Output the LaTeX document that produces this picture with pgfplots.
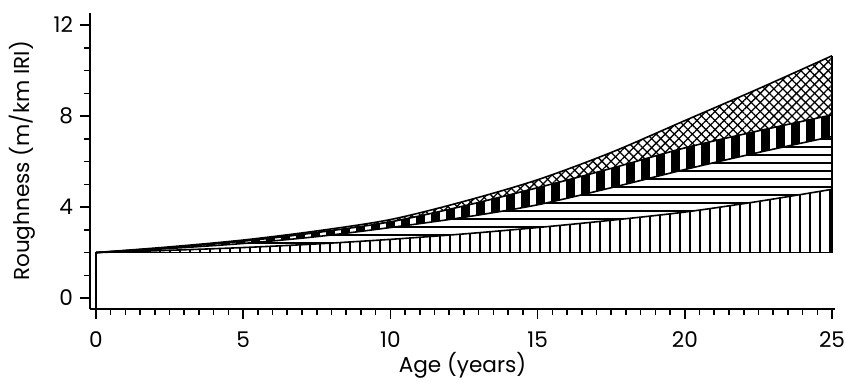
\documentclass[border=0pt]{standalone}
\usepackage{fontspec}
\setmainfont{Poppins}
\usepackage{pgfplots}
\usepackage{pgfplotstable}
\pgfplotsset{compat=1.18}
\usepgfplotslibrary{fillbetween}
\usetikzlibrary{patterns,patterns.meta}
\pgfdeclarepatternformonly{hlines}{\pgfqpoint{-1pt}{-1pt}}{\pgfqpoint{5pt}{5pt}}{\pgfqpoint{4pt}{4pt}}{%
  \pgfsetlinewidth{0.8pt}%
  \pgfpathmoveto{\pgfqpoint{-1pt}{2pt}}%
  \pgfpathlineto{\pgfqpoint{5pt}{2pt}}%
  \pgfusepath{stroke}}
\pgfplotstableread{
x c1 c2 c3 c4
0 2.00 2.00 2.00 2.00
2.5 2.10 2.18 2.22 2.25
5 2.22 2.40 2.50 2.55
7.5 2.38 2.70 2.88 2.95
10 2.58 3.10 3.35 3.45
12.5 2.82 3.55 4.05 4.25
15 3.10 4.10 4.85 5.20
17.5 3.42 4.85 5.70 6.40
20 3.78 5.65 6.60 7.80
22.5 4.25 6.40 7.35 9.20
25 4.78 7.10 8.05 10.65
}\data
\begin{document}
\begin{tikzpicture}
\begin{axis}[
 at={(0,0)}, anchor=south west,
 scale only axis, width=372.5pt, height=148pt,
 xmin=-0.2, xmax=25.1, ymin=-0.48, ymax=12.53,
 axis x line=bottom, axis y line=left,
 axis line style={-, line width=0.8pt},
 xtick={0,5,...,25}, minor x tick num=9,
 ytick={0,4,8,12}, minor y tick num=3,
 tick align=outside, major tick length=5pt, minor tick length=3pt,
 tick style={black, line width=0.8pt},
 xlabel={Age (years)}, ylabel={Roughness (m/km IRI)},
 /pgf/number format/assume math mode=true,
 ticklabel style={font=\fontsize{10.8}{12}\selectfont},
 xticklabel style={yshift=-3pt},
 label style={font=\fontsize{10.8}{12}\selectfont},
 xlabel style={at={(axis description cs:0.5,-0.189)}, anchor=center},
 ylabel style={at={(axis description cs:-0.0913,0.5)}, anchor=center},
]
\addplot[name path=base, draw=none] coordinates {(0,2)(25,2)};
\addplot[name path=c1, draw=none, smooth] table[x=x,y=c1]{\data};
\addplot[name path=c2, draw=none, smooth] table[x=x,y=c2]{\data};
\addplot[name path=c3, draw=none, smooth] table[x=x,y=c3]{\data};
\addplot[name path=c4, draw=none, smooth] table[x=x,y=c4]{\data};
\addplot[draw=none, pattern={Lines[angle=90,distance=5pt,line width=0.8pt]}] fill between[of=base and c1];
\addplot[draw=none, pattern=hlines] fill between[of=c1 and c2];
\addplot[draw=none, pattern={Lines[angle=90,distance=7.5pt,line width=4.5pt]}] fill between[of=c2 and c3];
\addplot[draw=none, pattern={Lines[angle=45,distance=3.2pt,line width=0.65pt]}] fill between[of=c3 and c4];
\addplot[draw=none, pattern={Lines[angle=-45,distance=3.2pt,line width=0.65pt]}] fill between[of=c3 and c4];
\addplot[black, line width=0.8pt, smooth] table[x=x,y=c1]{\data};
\addplot[black, line width=0.8pt, smooth] table[x=x,y=c2]{\data};
\addplot[black, line width=0.8pt, smooth] table[x=x,y=c3]{\data};
\addplot[black, line width=0.8pt, smooth] table[x=x,y=c4]{\data};
\addplot[black, line width=0.8pt] coordinates {(0,-0.48)(0,2)(25,2)(25,10.65)};
\end{axis}
\pgfresetboundingbox
\path (-45pt,-37pt) rectangle (377.5pt,154.5pt);
\end{tikzpicture}
\end{document}
